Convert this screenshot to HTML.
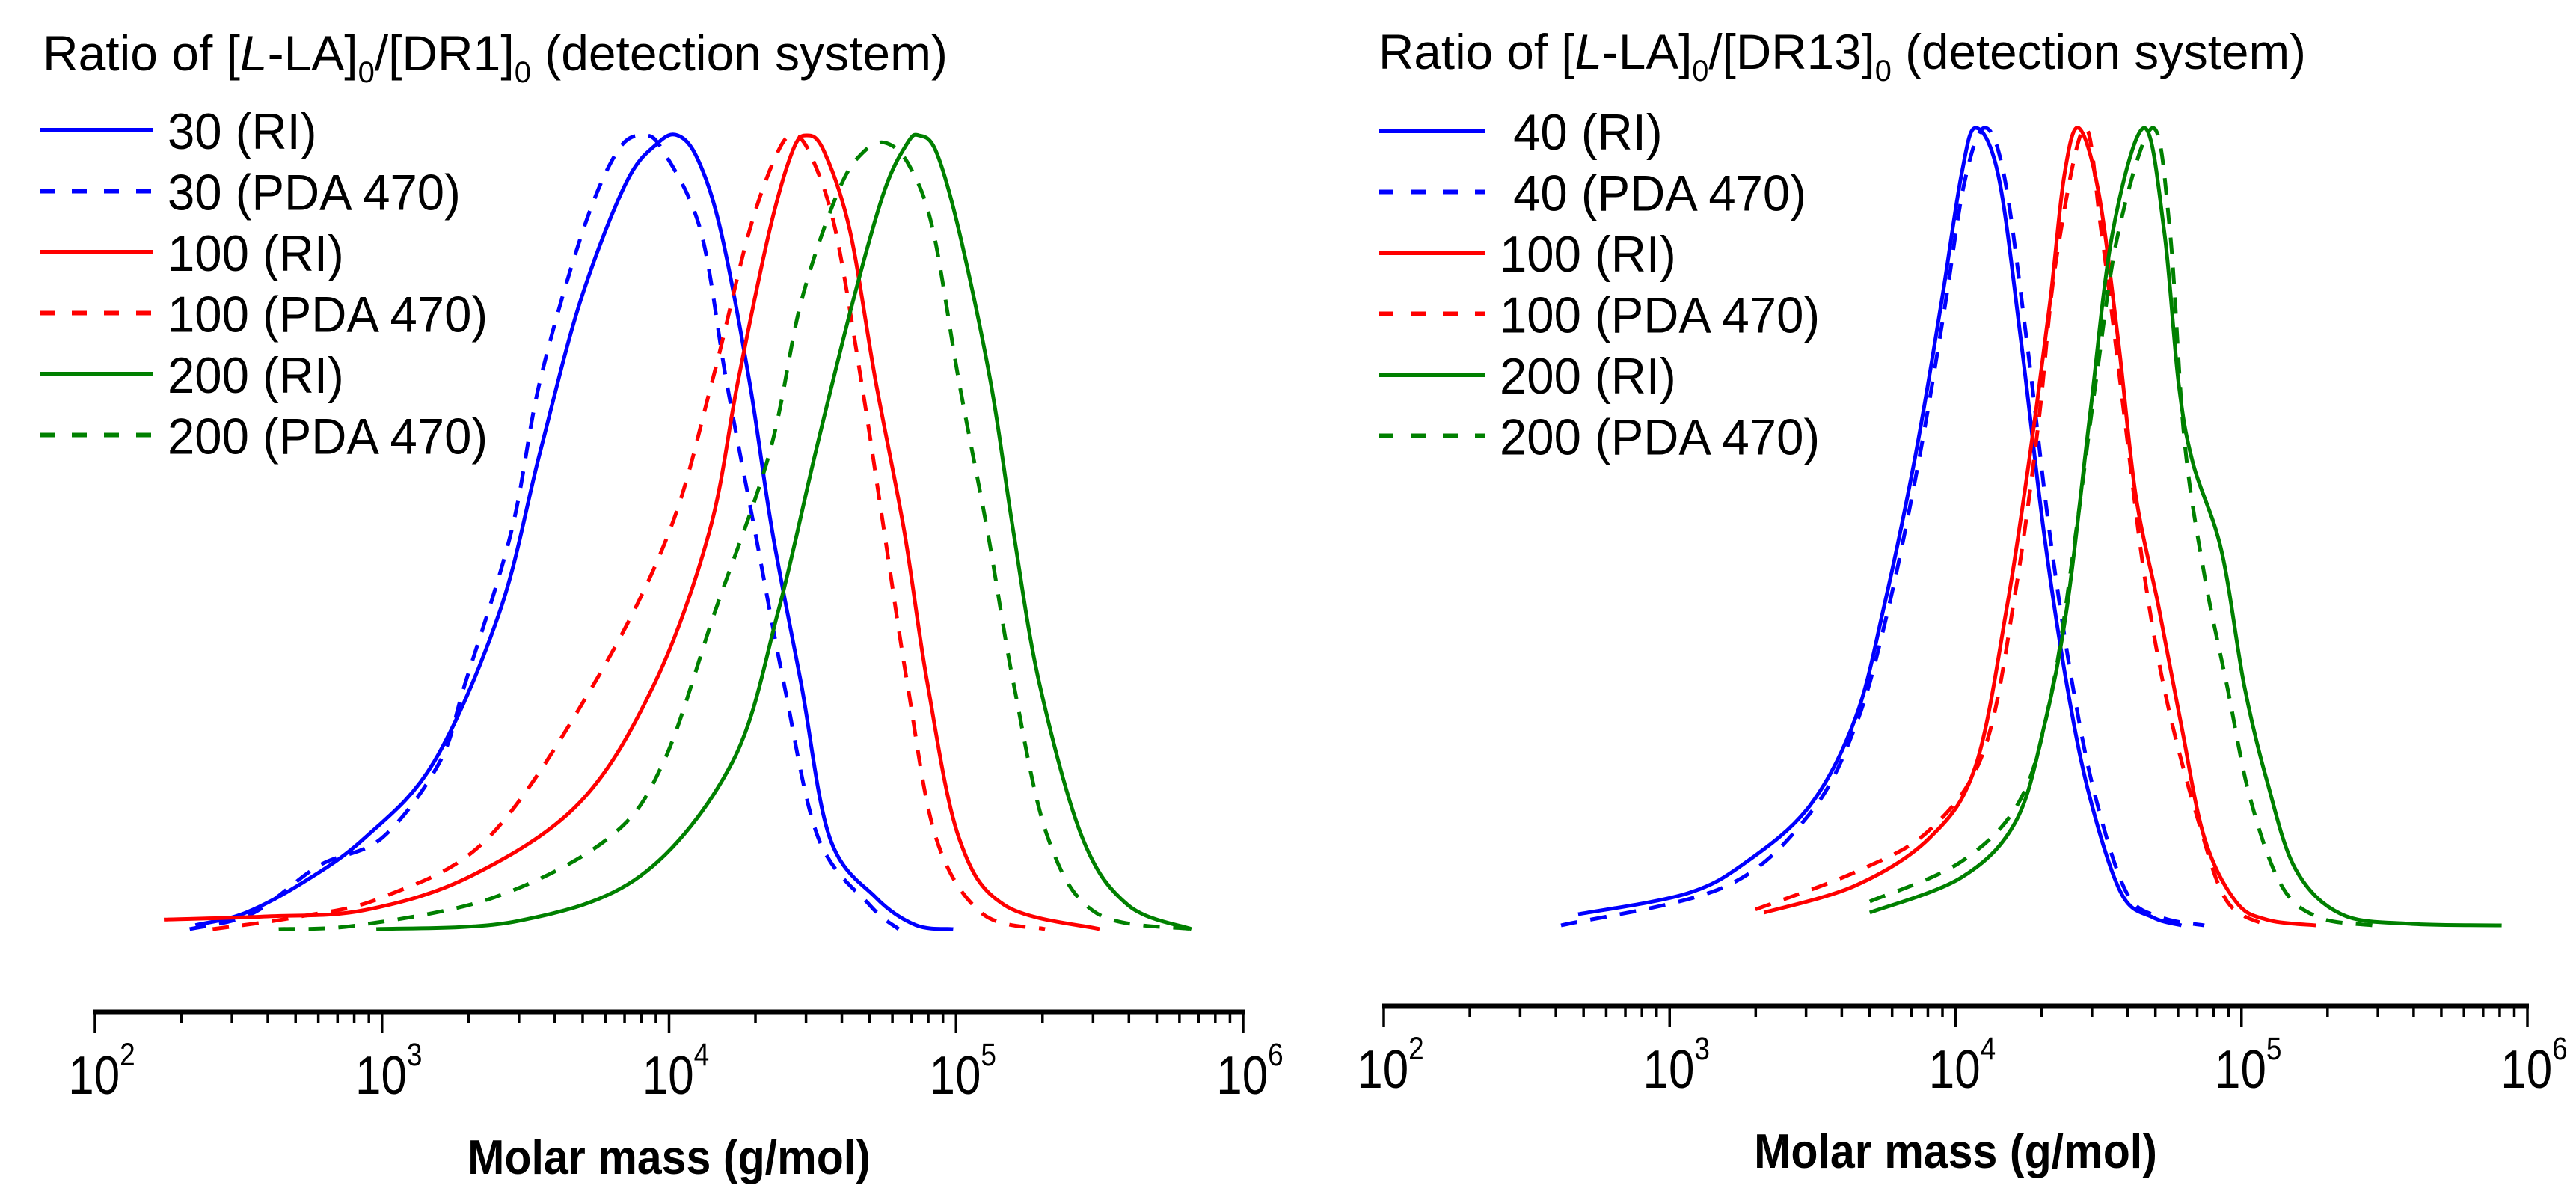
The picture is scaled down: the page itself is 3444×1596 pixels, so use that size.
<!DOCTYPE html>
<html><head><meta charset="utf-8"><style>
html,body{margin:0;padding:0;background:#fff;}
svg{display:block;font-family:"Liberation Sans",Arial,sans-serif;}
</style></head><body>
<svg id="chart" width="3444" height="1596" viewBox="0 0 3444 1596"></svg>
<script>
// Tick labels (exponents)
const tickExps = [2,3,4,5,6];
// Left panel: DR1 (log10 M, normalized height)
const L_blueRI_x = [2.35,2.52,2.73,2.94,3.18,3.41,3.55,3.69,3.85,3.96,4.03,4.1,4.18,4.28,4.36,4.46,4.56,4.72,4.86,4.99];
const L_blueRI_h = [0.005,0.02,0.06,0.115,0.21,0.4,0.6,0.79,0.94,0.99,1.0,0.97,0.88,0.69,0.5,0.31,0.115,0.04,0.005,0];
const L_bluePDA_x = [2.33,2.55,2.78,3.0,3.2,3.29,3.45,3.55,3.7,3.82,3.91,3.98,4.11,4.2,4.3,4.4,4.52,4.7,4.8];
const L_bluePDA_h = [0,0.02,0.08,0.115,0.21,0.31,0.5,0.69,0.88,0.98,1.0,0.98,0.88,0.69,0.5,0.31,0.115,0.03,0];
const L_redRI_x = [2.24,2.6,2.94,3.31,3.69,3.95,4.14,4.24,4.35,4.43,4.48,4.54,4.63,4.72,4.82,4.9,5.01,5.17,5.5];
const L_redRI_h = [0.012,0.016,0.024,0.067,0.16,0.31,0.5,0.69,0.88,0.98,1.0,0.98,0.88,0.69,0.5,0.31,0.115,0.03,0];
const L_redPDA_x = [2.41,2.7,3.0,3.37,3.74,4.0,4.15,4.28,4.38,4.44,4.5,4.58,4.67,4.75,4.83,4.93,5.09,5.31];
const L_redPDA_h = [0,0.015,0.04,0.115,0.31,0.5,0.69,0.88,0.98,1.0,0.97,0.88,0.69,0.5,0.31,0.115,0.02,0];
const L_greenRI_x = [2.98,3.47,3.9,4.22,4.38,4.51,4.64,4.75,4.83,4.87,4.93,5.01,5.12,5.2,5.29,5.44,5.6,5.82];
const L_greenRI_h = [0,0.01,0.067,0.21,0.4,0.6,0.79,0.93,0.99,1.0,0.98,0.88,0.69,0.5,0.31,0.115,0.03,0];
const L_greenPDA_x = [2.64,2.92,3.39,3.79,3.98,4.16,4.35,4.46,4.59,4.68,4.76,4.84,4.92,5.01,5.11,5.2,5.32,5.49,5.82];
const L_greenPDA_h = [0,0.005,0.04,0.115,0.21,0.4,0.6,0.79,0.93,0.98,0.99,0.96,0.88,0.69,0.5,0.31,0.115,0.02,0];
// Right panel: DR13
const R_blueRI_x = [2.68,3.06,3.27,3.49,3.65,3.75,3.86,3.95,4.02,4.07,4.15,4.23,4.31,4.39,4.47,4.58,4.69,4.79];
const R_blueRI_h = [0.014,0.04,0.08,0.15,0.26,0.4,0.59,0.78,0.94,1.0,0.94,0.73,0.49,0.3,0.16,0.04,0.01,0];
const R_bluePDA_x = [2.62,3.19,3.49,3.65,3.76,3.87,3.96,4.03,4.1,4.17,4.25,4.33,4.41,4.49,4.6,4.72,4.87];
const R_bluePDA_h = [0,0.048,0.14,0.25,0.39,0.58,0.77,0.93,1.0,0.94,0.73,0.49,0.3,0.16,0.04,0.01,0];
const R_redRI_x = [3.33,3.65,3.91,4.07,4.18,4.26,4.33,4.38,4.43,4.5,4.57,4.63,4.71,4.79,4.87,4.98,5.09,5.26];
const R_redRI_h = [0.016,0.05,0.11,0.2,0.4,0.59,0.78,0.94,1.0,0.92,0.73,0.54,0.4,0.25,0.11,0.03,0.007,0];
const R_redPDA_x = [3.3,3.65,3.91,4.1,4.21,4.29,4.35,4.45,4.51,4.59,4.66,4.74,4.85,4.95,5.09];
const R_redPDA_h = [0.02,0.067,0.12,0.22,0.42,0.63,0.83,1.0,0.87,0.64,0.44,0.28,0.13,0.03,0];
const R_greenRI_x = [3.7,4.02,4.21,4.31,4.39,4.47,4.55,4.66,4.73,4.78,4.83,4.93,5.01,5.09,5.19,5.35,5.59,5.91];
const R_greenRI_h = [0.016,0.06,0.13,0.25,0.4,0.64,0.87,1.0,0.87,0.68,0.58,0.47,0.3,0.18,0.07,0.014,0.002,0];
const R_greenPDA_x = [3.7,4.02,4.23,4.34,4.42,4.49,4.57,4.69,4.75,4.8,4.87,4.95,5.03,5.14,5.27,5.46];
const R_greenPDA_h = [0.03,0.08,0.16,0.3,0.49,0.68,0.87,1.0,0.87,0.61,0.44,0.3,0.16,0.05,0.01,0];

const NS='http://www.w3.org/2000/svg';
const svg=document.getElementById('chart');
function mk(tag,attrs,parent){const e=document.createElementNS(NS,tag);for(const k in attrs)e.setAttribute(k,attrs[k]);(parent||svg).appendChild(e);return e;}
const colors={blue:'#0000ff',red:'#ff0000',green:'#008000'};
function pathD(xs,hs,xScale,yS){
  const p=xs.map((x,i)=>[xScale(x),yS(hs[i])]);
  let d='M'+p[0][0].toFixed(1)+','+p[0][1].toFixed(1);
  for(let i=0;i<p.length-1;i++){
    const p0=p[i-1]||p[i],p1=p[i],p2=p[i+1],p3=p[i+2]||p2;
    const c1=[p1[0]+(p2[0]-p0[0])/6,p1[1]+(p2[1]-p0[1])/6];
    const c2=[p2[0]-(p3[0]-p1[0])/6,p2[1]-(p3[1]-p1[1])/6];
    d+=' C'+c1[0].toFixed(1)+','+c1[1].toFixed(1)+' '+c2[0].toFixed(1)+','+c2[1].toFixed(1)+' '+p2[0].toFixed(1)+','+p2[1].toFixed(1);
  }
  return d;
}
function panel(o){
  const g=mk('g',{});
  
  
  const dec=(o.x1-o.x0)/4;
  const xScale=v=>o.x0+(v-2)*dec;
  const yS=h=>o.Y0-h*(o.Y0-o.Y1);
  const AY=o.axisY;
  const ax=mk('line',{x1:o.x0-2,x2:o.x1+2,y1:AY,y2:AY,stroke:'#000','stroke-width':7},g);
  
  
  for(let e=2;e<6;e++){for(let m=2;m<10;m++){
    const t=mk('line',{x1:xScale(e+Math.log10(m)),x2:xScale(e+Math.log10(m)),y1:AY,y2:AY+15,stroke:'#000','stroke-width':3.5},g);
    
    
  }}
  tickExps.forEach(e=>{
    const t=mk('line',{x1:xScale(e),x2:xScale(e),y1:AY,y2:AY+28,stroke:'#000','stroke-width':3.5},g);
    
    
    const tx=mk('text',{x:0,y:0,'font-size':72,fill:'#000','text-anchor':'middle',transform:'translate('+(xScale(e)+9)+','+(AY+109)+') scale(0.86,1)'},g);
    
    
    const a=mk('tspan',{},tx);a.textContent='10';
    const sp=mk('tspan',{dy:-38,'font-size':43},tx);sp.textContent=String(e);
  });
  const at=mk('text',{x:0,y:0,'font-size':65,'font-weight':'bold','text-anchor':'middle',fill:'#000',transform:'translate('+((o.x0+o.x1)/2)+','+(AY+216)+') scale(0.91,1)'},g);
  
  
  at.textContent='Molar mass (g/mol)';
  const tt=mk('text',{x:o.titleX,y:o.titleY,'font-size':66,fill:'#000',textLength:o.titleW,lengthAdjust:'spacingAndGlyphs'},g);
  
  
  const a=mk('tspan',{},tt);a.textContent='Ratio of [';
  const b=mk('tspan',{'font-style':'italic'},tt);b.textContent='L';
  const c=mk('tspan',{},tt);c.textContent='-LA]';
  const d=mk('tspan',{dy:16,'font-size':40},tt);d.textContent='0';
  const e2=mk('tspan',{dy:-16},tt);e2.textContent='/['+o.sub+']';
  const f=mk('tspan',{dy:16,'font-size':40},tt);f.textContent='0';
  const h=mk('tspan',{dy:-16},tt);h.textContent=' (detection system)';
  o.series.forEach((s,i)=>{
    const p=mk('path',{d:pathD(s.x,s.h,xScale,yS),fill:'none',stroke:colors[s.c],'stroke-width':5,'stroke-dasharray':s.dashed?'22,18':'none','stroke-linejoin':'round'},g);
    
    
    const ly=o.legY+i*81.5;
    const le=mk('g',{},g);
    
    
    mk('line',{x1:o.lineX0,x2:o.lineX1,y1:ly,y2:ly,stroke:colors[s.c],'stroke-width':6,'stroke-dasharray':s.dashed?'20,23':'none','stroke-linecap':'butt'},le);
    const lt=mk('text',{x:0,y:0,'font-size':68,fill:'#000',transform:'translate('+o.textX+','+(ly+25)+') scale(0.96,1)'},le);
    lt.textContent=o.labels[i];
  });
}
panel({name:'left-panel',x0:127,x1:1662,axisY:1353,Y0:1242,Y1:181,sub:'DR1',titleX:57,titleY:94,titleW:1210,
  legY:174,lineX0:53,lineX1:204,textX:224,
  labels:['30 (RI)','30 (PDA 470)','100 (RI)','100 (PDA 470)','200 (RI)','200 (PDA 470)'],
  series:[{x:L_blueRI_x,h:L_blueRI_h,c:'blue'},{x:L_bluePDA_x,h:L_bluePDA_h,c:'blue',dashed:1},
   {x:L_redRI_x,h:L_redRI_h,c:'red'},{x:L_redPDA_x,h:L_redPDA_h,c:'red',dashed:1},
   {x:L_greenRI_x,h:L_greenRI_h,c:'green'},{x:L_greenPDA_x,h:L_greenPDA_h,c:'green',dashed:1}]});
panel({name:'right-panel',x0:1850,x1:3379,axisY:1345,Y0:1237,Y1:171,sub:'DR13',titleX:1843,titleY:92,titleW:1240,
  legY:175,lineX0:1843,lineX1:1985,textX:2005,
  labels:['\u00a040 (RI)','\u00a040 (PDA 470)','100 (RI)','100 (PDA 470)','200 (RI)','200 (PDA 470)'],
  series:[{x:R_blueRI_x,h:R_blueRI_h,c:'blue'},{x:R_bluePDA_x,h:R_bluePDA_h,c:'blue',dashed:1},
   {x:R_redRI_x,h:R_redRI_h,c:'red'},{x:R_redPDA_x,h:R_redPDA_h,c:'red',dashed:1},
   {x:R_greenRI_x,h:R_greenRI_h,c:'green'},{x:R_greenPDA_x,h:R_greenPDA_h,c:'green',dashed:1}]});
</script>
</body></html>
